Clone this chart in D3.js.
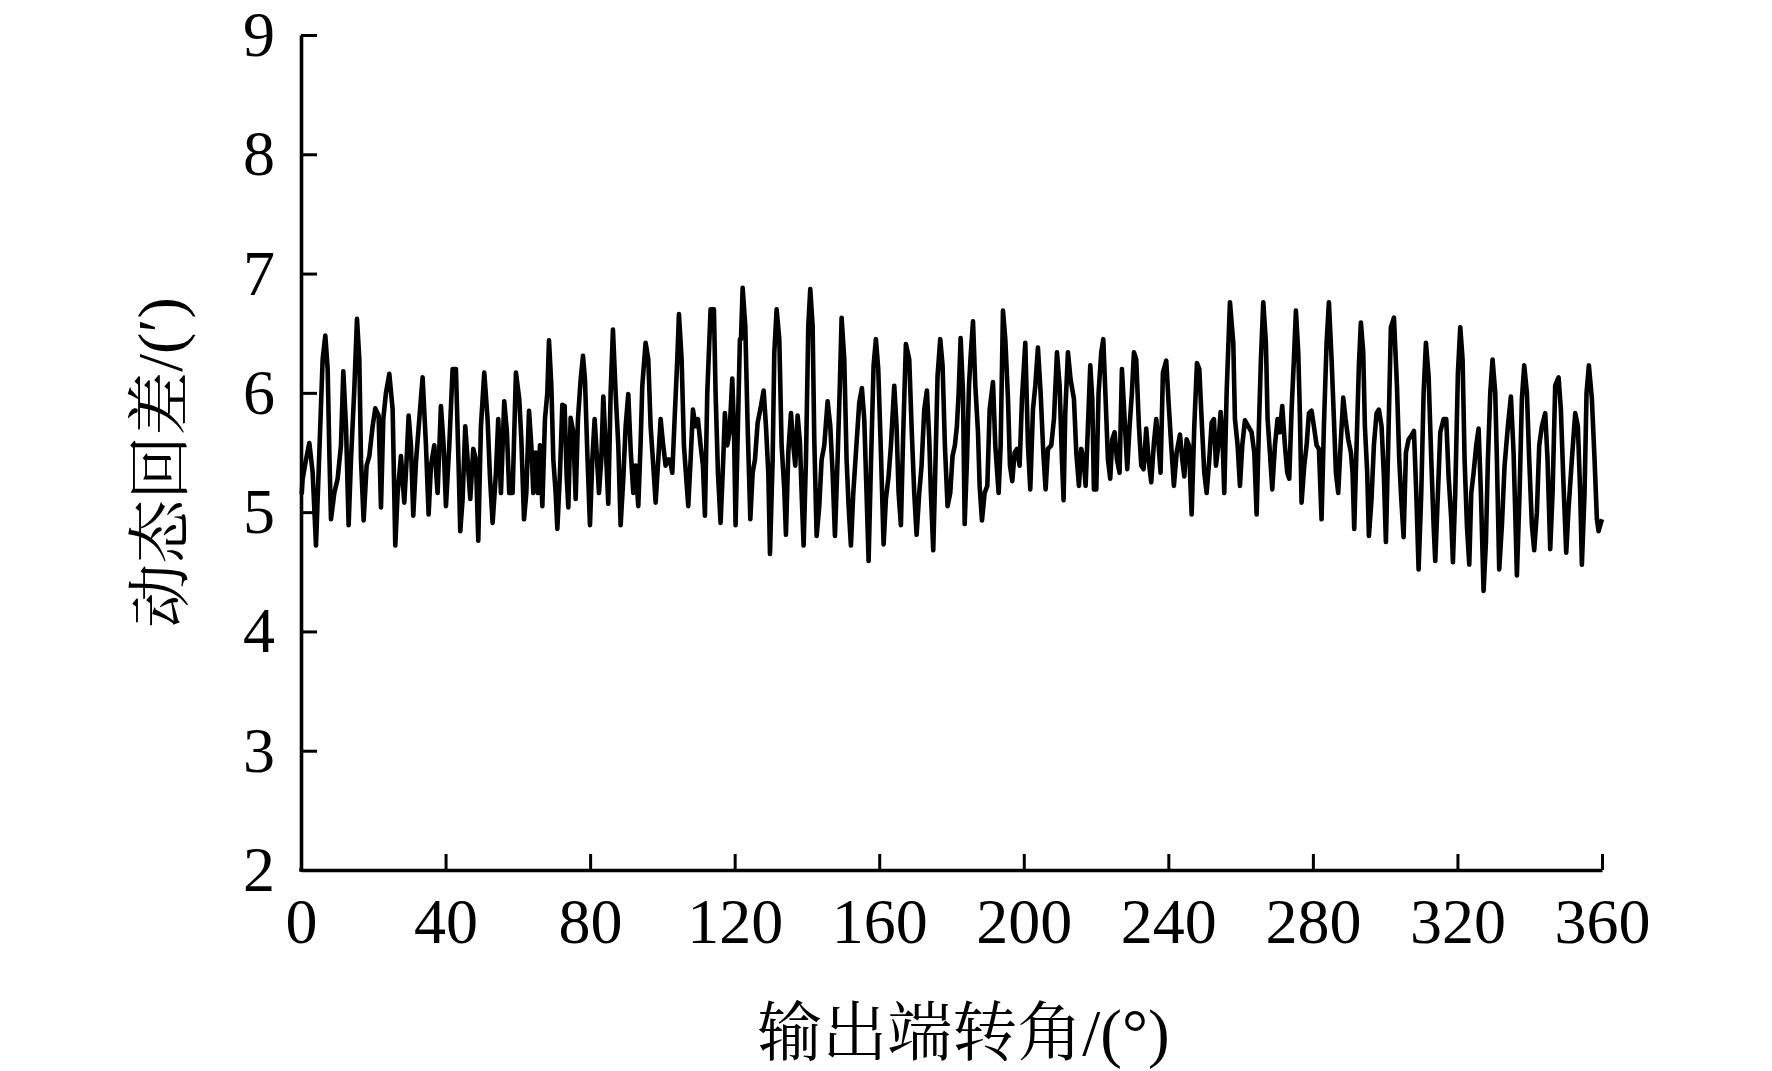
<!DOCTYPE html>
<html>
<head>
    <meta charset="utf-8">
    <script src="https://d3js.org/d3.v7.min.js"></script>
    <style>
      body { margin: 0; background: #fff; }
      svg text { fill: #000; }
    </style>
</head>
<body>
    <div id="graph"></div>
    <script>
    // output angle (deg)
    const angleDeg = [
      0.2, 0.46, 1.38, 2.31, 3.23, 4.15, 5.07, 5.99, 6.73, 7.38, 7.84, 8.30, 9.22, 10.14, 11.06, 11.71,
      12.45, 13.18, 13.83, 14.75, 15.49, 16.14, 16.60, 17.33, 18.16, 18.90, 19.82, 20.56, 21.48, 22.13,
      22.77, 23.51, 24.43, 25.36, 26.09, 26.74, 27.66, 28.58, 29.23, 29.78, 30.42, 31.07, 31.81, 32.73,
      33.65, 34.58, 35.31, 35.96, 36.88, 37.80, 38.72, 39.46, 40.11, 41.03, 41.95, 42.87, 43.61, 44.07,
      44.72, 45.45, 46.10, 46.84, 47.67, 48.40, 49.05, 49.79, 50.71, 51.63, 52.28, 53.02, 53.94, 54.58,
      55.32, 56.24, 56.98, 57.63, 58.55, 59.47, 60.39,
      60.97, 61.71, 62.35, 63.09, 63.73, 64.29, 64.93, 65.58, 66.13, 66.78, 67.51, 68.16, 68.62, 69.27,
      69.82, 70.47, 70.93, 71.66, 72.31, 72.95, 73.51, 73.97, 74.61, 75.35, 76.00, 76.64, 77.38, 78.03,
      78.58, 79.22, 79.96, 80.61, 81.25, 81.81, 82.45, 83.10, 83.65, 84.30, 85.03, 85.68, 86.32, 87.06,
      87.80, 88.44, 89.18, 89.83, 90.56, 91.21, 91.95, 92.59, 93.33, 93.98, 94.44, 95.36, 96.10, 96.74,
      97.48, 98.13, 98.86, 99.51, 100.15, 100.89, 101.54, 102.09, 102.74, 103.38, 104.12, 104.58, 105.32,
      105.96, 106.61, 107.16, 107.81, 108.45, 109.19, 109.83, 110.57, 111.22, 111.77, 112.42, 113.34,
      114.26, 114.72, 115.37, 116.10, 116.84, 117.30, 117.95, 118.59, 119.33, 119.79, 120.25, 120.90,
      121.45, 121.75, 122.21, 122.94, 123.59, 124.33, 124.97, 125.62, 126.36, 127.28, 128.02, 128.66,
      129.31, 129.77, 130.51, 130.97, 131.61, 132.35, 132.99, 133.73, 134.19, 134.84, 135.58, 136.22,
      136.77, 137.42, 138.07, 138.53, 139.08, 139.73, 140.37, 140.92, 141.57, 142.03, 142.68, 143.41,
      144.06, 144.80, 145.72, 146.46, 147.10, 147.75, 148.48, 149.13, 149.59, 150.33, 150.97, 151.53,
      152.17, 152.82, 153.56, 154.48, 155.21, 155.86, 156.32, 157.06, 157.70, 158.44, 159.08, 159.73,
      160.47, 161.21, 161.85, 162.59, 163.24, 164.16, 164.80, 165.36, 166.00, 166.65, 167.38, 168.31,
      168.95, 169.69, 170.34, 171.07, 171.72, 172.46, 173.19, 173.84, 174.30, 174.95, 175.50, 176.14,
      176.88, 177.53, 178.17, 178.91, 179.65, 180.29, 180.94, 181.49,
      181.98, 182.53, 183.18, 183.64, 184.29, 184.84, 185.30, 185.95, 186.59, 187.33, 187.79, 188.43,
      189.17, 189.91, 190.56, 191.48, 192.12, 193.04, 193.60, 194.24, 194.89, 195.63, 196.18, 196.82,
      197.47, 198.11, 198.85, 199.50, 200.42, 201.16, 201.80, 202.54, 203.19, 203.92, 204.66, 205.40,
      206.04, 206.69, 207.61, 208.35, 209.18, 209.92, 210.56, 211.02, 211.48, 212.22, 212.96, 213.88,
      214.53, 215.26, 215.91, 216.56, 217.11, 217.75, 218.40, 218.95, 219.41, 220.06, 220.70, 221.44,
      222.00, 222.64, 223.29, 223.93, 224.48, 225.13, 225.78, 226.51, 227.16, 227.90, 228.63, 229.28,
      229.92, 230.48, 231.12, 231.86, 232.51, 233.15, 233.89, 234.53, 235.27, 236.01, 236.66, 237.30,
      237.85, 238.50, 239.42, 240.07, 240.80, 241.54,
      242.30, 243.22, 243.86, 244.42, 245.06, 245.71, 246.45, 247.18, 247.92, 248.57, 249.21, 249.95,
      250.60, 251.33, 251.98, 252.62, 253.18, 253.82, 254.47, 254.93, 255.48, 256.13, 257.05, 257.97,
      258.43, 259.17, 259.82, 260.46, 261.20, 262.12, 263.04, 263.78, 264.43, 265.07, 265.62, 266.27,
      267.00, 267.47, 268.11, 268.76, 269.50, 270.23, 270.88, 271.52, 272.26, 272.91, 273.46, 274.11,
      274.75, 275.30, 275.95, 276.41, 276.87, 277.61, 278.26, 278.90, 279.64, 280.28, 281.02, 281.67,
      282.40, 283.05, 283.79, 284.43, 285.17, 285.82, 286.37, 287.01, 287.66, 288.40, 289.04, 289.78,
      290.52, 290.98, 291.44, 292.09, 292.73, 293.28, 293.93, 294.39, 295.03, 295.50, 296.23, 296.88,
      297.62, 298.26, 299.00, 299.65, 300.20, 300.84, 301.58,
      302.43, 303.26, 303.90, 304.46, 305.10, 305.75, 306.49, 307.22, 307.96, 308.61, 309.25, 309.99,
      310.64, 311.28, 312.02, 312.76, 313.40, 313.86, 314.60, 315.25, 316.17, 316.90, 317.55, 318.29,
      318.75, 319.39, 320.13, 320.78, 321.42, 321.98, 322.62, 323.27, 323.82, 324.47, 325.20, 325.85,
      326.49, 327.23, 327.88, 328.43, 329.08, 329.72, 330.46, 330.92, 331.56, 332.30, 333.04, 333.96,
      334.79, 335.53, 335.99, 336.45, 337.19, 337.83, 338.48, 339.22, 339.86, 340.60, 341.24, 341.98,
      342.63, 343.37, 344.29, 344.93, 345.67, 346.32, 347.05, 347.98, 348.62, 349.36, 350.10, 350.74,
      351.66, 352.59, 353.32, 353.97, 354.43, 355.17, 355.72, 356.37, 357.20, 357.94, 358.59, 359.05,
      359.69, 360.0
    ];

    // dynamic backlash (arc-min) at each angle
    const backlash = [
      5.15, 5.28, 5.44, 5.58, 5.33, 4.72, 5.50, 6.28, 6.48, 6.20, 5.50, 4.94, 5.16, 5.28, 5.56, 6.18,
      5.72, 4.89, 5.44, 6.03, 6.62, 6.28, 5.44, 4.93, 5.39, 5.47, 5.72, 5.87, 5.81, 5.04,
      5.78, 6.00, 6.16, 5.86, 4.72, 5.16, 5.47, 5.08, 5.44, 5.81, 5.56, 4.97, 5.42, 5.78,
      6.13, 5.56, 4.98, 5.39, 5.56, 5.16, 5.89, 5.56, 5.05, 5.56, 6.20, 6.20, 5.39, 4.84,
      5.11, 5.72, 5.44, 5.11, 5.53, 5.44, 4.76, 5.72, 6.17, 5.78, 5.30, 4.91, 5.33, 5.78,
      5.16, 5.93, 5.67, 5.16, 5.16, 6.17, 5.95,
      5.61, 4.94, 5.16, 5.85, 5.56, 5.16, 5.50, 5.16, 5.56, 5.05, 5.78, 6.00, 6.44, 6.06,
      5.44, 5.16, 4.86, 5.33, 5.90, 5.89, 5.30, 5.04, 5.79, 5.67, 5.11, 5.78, 6.11, 6.31,
      6.11, 5.50, 4.89, 5.44, 5.78, 5.50, 5.16, 5.44, 5.97, 5.56, 5.07, 6.00, 6.53, 6.00,
      5.56, 4.89, 5.28, 5.72, 5.99, 5.53, 5.16, 5.39, 5.05, 5.58, 6.06, 6.42, 6.28, 5.72,
      5.39, 5.08, 5.44, 5.78, 5.58, 5.39, 5.44, 5.44, 5.33, 5.78, 6.28, 6.66, 6.28,
      5.56, 5.28, 5.05, 5.44, 5.86, 5.72, 5.78, 5.56, 5.39, 4.97, 6.00, 6.70,
      6.70, 6.00, 5.33, 4.91, 5.44, 5.83, 5.56, 5.67, 6.12, 5.72, 4.89, 5.72,
      6.45, 6.45, 6.88, 6.56, 5.72, 4.94, 5.33, 5.44, 5.75, 5.89, 6.02, 5.72,
      5.33, 4.65, 5.44, 6.34, 6.70, 6.45, 5.56, 5.19, 4.81, 5.50, 5.83, 5.56,
      5.39, 5.81, 5.58, 5.16, 4.72, 5.44, 6.56, 6.87, 6.56, 5.61, 4.80, 5.05,
      5.44, 5.56, 5.93, 5.72, 5.33, 4.80, 5.44, 6.09, 6.63, 6.28, 5.44, 5.05,
      4.72, 5.16, 5.50, 5.92, 6.04, 5.78, 5.33, 4.59, 5.39, 6.23, 6.45, 6.20,
      5.50, 4.73, 5.11, 5.30, 5.56, 6.06, 5.72, 5.16, 4.89, 5.67, 6.41, 6.28,
      5.72, 5.16, 4.81, 5.16, 5.39, 5.86, 6.02, 5.61, 5.16, 4.68, 5.33, 6.14,
      6.45, 6.23, 5.56, 5.05, 5.16, 5.47, 5.56, 5.72,
      6.00, 6.46, 6.00, 4.90, 5.44, 6.06, 6.31, 6.60, 6.06, 5.67, 5.22, 4.93,
      5.16, 5.22, 5.86, 6.09, 5.56, 5.16, 5.56, 6.69, 6.45, 5.95, 5.39, 5.26,
      5.50, 5.53, 5.39, 5.95, 6.42, 5.56, 5.19, 5.86, 6.06, 6.38, 6.00, 5.50,
      5.19, 5.53, 5.56, 5.78, 6.34, 6.06, 5.44, 5.10, 5.83, 6.34, 6.11, 5.95,
      5.50, 5.22, 5.53, 5.44, 5.22, 5.72, 6.23, 5.95, 5.19, 5.19, 6.00, 6.34,
      6.45, 5.95, 5.44, 5.28, 5.61, 5.67, 5.44, 5.33, 6.20, 5.78, 5.36, 5.72,
      6.00, 6.34, 6.28, 5.72, 5.39, 5.36, 5.70, 5.44, 5.25, 5.58, 5.78, 5.56,
      5.33, 6.17, 6.27, 5.92, 5.56, 5.22,
      5.50, 5.65, 5.44, 5.30, 5.61, 5.56, 4.98, 5.72, 6.25, 6.20, 5.78, 5.33,
      5.16, 5.44, 5.75, 5.78, 5.39, 5.56, 5.84, 5.67, 5.16, 6.00, 6.76, 6.42,
      5.78, 5.56, 5.22, 5.56, 5.77, 5.72, 5.67, 5.50, 4.98, 5.72, 6.28, 6.76,
      6.42, 5.78, 5.50, 5.19, 5.56, 5.78, 5.67, 5.89, 5.56, 5.33, 5.28, 5.86,
      6.28, 6.69, 6.34, 5.81, 5.08, 5.39, 5.56, 5.83, 5.85, 5.72, 5.56, 5.53,
      4.94, 5.72, 6.42, 6.76, 6.28, 5.78, 5.33, 5.16, 5.56, 5.96, 5.78, 5.61,
      5.50, 5.33, 4.86, 5.56, 6.23, 6.59, 6.34, 5.72, 5.33, 4.80, 5.11, 5.56,
      5.83, 5.86, 5.72, 5.30, 4.75, 5.56, 6.55,
      6.63, 6.06, 5.44, 5.11, 4.79, 5.50, 5.61, 5.64, 5.68, 5.16, 4.52, 5.16,
      6.00, 6.42, 6.14, 5.44, 4.89, 4.59, 5.16, 5.67, 5.78, 5.78, 5.30, 4.94,
      4.58, 5.16, 6.17, 6.55, 6.28, 5.44, 4.89, 4.56, 5.16, 5.33, 5.56, 5.70,
      5.16, 4.34, 4.75, 5.44, 6.00, 6.28, 6.00, 5.44, 4.52, 4.89, 5.39, 5.72,
      5.97, 5.50, 5.00, 4.47, 5.16, 5.95, 6.23, 6.00, 5.44, 4.89, 4.68, 5.00,
      5.56, 5.72, 5.83, 5.44, 4.69, 5.16, 6.06, 6.13, 5.86, 5.22, 4.66, 5.03,
      5.44, 5.83, 5.72, 5.16, 4.56, 5.16, 6.00, 6.23, 5.95, 5.44, 4.94, 4.84,
      4.91, 4.94
    ];

    const xTicks = [0, 40, 80, 120, 160, 200, 240, 280, 320, 360];
    const yTicks = [2, 3, 4, 5, 6, 7, 8, 9];
    const xTitle = "输出端转角/(°)";
    const yTitle = "动态回差/(′)";

    const W = 1772, H = 1071;
    const margin = { top: 35, right: 170, bottom: 201, left: 301 };
    const width = W - margin.left - margin.right;
    const height = H - margin.top - margin.bottom;
    const font = "'Liberation Serif', 'Times New Roman', 'Noto Serif CJK SC', 'Noto Sans CJK SC', serif";

    const svg = d3.select("#graph")
      .append("svg")
      .attr("width", W)
      .attr("height", H)
      .append("g")
      .attr("transform", `translate(${margin.left},${margin.top})`);

    const xScale = d3.scaleLinear().domain([0, 360]).range([0, width]);
    const yScale = d3.scaleLinear().domain([2, 9]).range([height, 0]);

    const points = angleDeg.map((a, i) => ({ a: a, v: backlash[i] }));

    svg.append("path")
      .datum(points)
      .attr("fill", "none")
      .attr("stroke", "#000")
      .attr("stroke-width", 4.6)
      .attr("stroke-linejoin", "round")
      .attr("d", d3.line()
        .x(d => xScale(d.a))
        .y(d => yScale(d.v)));

    const xAxis = svg.append("g")
      .attr("class", "x-axis")
      .attr("transform", `translate(0,${height})`)
      .call(d3.axisBottom(xScale).tickValues(xTicks).tickFormat(d3.format("d"))
        .tickSizeInner(-16).tickSizeOuter(0).tickPadding(28));

    const yAxis = svg.append("g")
      .attr("class", "y-axis")
      .call(d3.axisLeft(yScale).tickValues(yTicks).tickFormat(d3.format("d"))
        .tickSizeInner(-16).tickSizeOuter(0).tickPadding(26));

    [xAxis, yAxis].forEach(ax => {
      ax.select(".domain").attr("stroke", "#000").attr("stroke-width", 3.6);
      ax.selectAll(".tick line").attr("stroke", "#000").attr("stroke-width", 3);
      ax.selectAll(".tick text")
        .style("font-family", font)
        .style("font-size", "64px")
        .attr("fill", "#000");
    });

    // close the corner where both axes meet
    svg.append("rect")
      .attr("x", -1.8).attr("y", height - 1.8)
      .attr("width", 3.6).attr("height", 3.6)
      .attr("fill", "#000");

    svg.append("text")
      .attr("x", width / 2 + 12)
      .attr("y", height + 185)
      .attr("text-anchor", "middle")
      .style("font-family", font)
      .style("font-size", "65px")
      .text(xTitle);

    svg.append("text")
      .attr("transform", `translate(${182 - margin.left},${height / 2 + 10}) rotate(-90)`)
      .attr("text-anchor", "middle")
      .style("font-family", font)
      .style("font-size", "64px")
      .text(yTitle);
    </script>
</body>
</html>
